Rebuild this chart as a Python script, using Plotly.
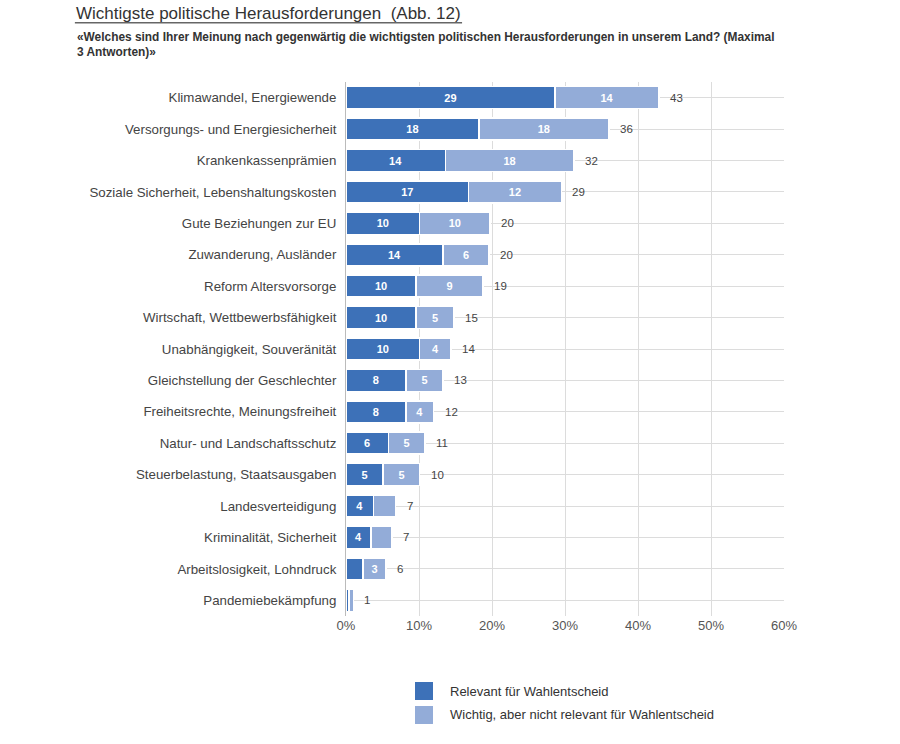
import plotly.graph_objects as go

categories = [
    "Klimawandel, Energiewende",
    "Versorgungs- und Energiesicherheit",
    "Krankenkassenprämien",
    "Soziale Sicherheit, Lebenshaltungskosten",
    "Gute Beziehungen zur EU",
    "Zuwanderung, Ausländer",
    "Reform Altersvorsorge",
    "Wirtschaft, Wettbewerbsfähigkeit",
    "Unabhängigkeit, Souveränität",
    "Gleichstellung der Geschlechter",
    "Freiheitsrechte, Meinungsfreiheit",
    "Natur- und Landschaftsschutz",
    "Steuerbelastung, Staatsausgaben",
    "Landesverteidigung",
    "Kriminalität, Sicherheit",
    "Arbeitslosigkeit, Lohndruck",
    "Pandemiebekämpfung",
]
relevant = [28.6, 18.2, 13.6, 16.8, 10.1, 13.3, 9.6, 9.6, 10.1, 8.2, 8.2, 5.8, 5.1, 3.8, 3.4, 2.3, 0.4]
wichtig = [14.3, 17.8, 17.6, 12.7, 9.6, 6.3, 9.2, 5.2, 4.3, 5.1, 3.8, 5.0, 5.0, 3.0, 2.9, 3.2, 0.6]
relevant_labels = ["29", "18", "14", "17", "10", "14", "10", "10", "10", "8", "8", "6", "5", "4", "4", "", ""]
wichtig_labels = ["14", "18", "18", "12", "10", "6", "9", "5", "4", "5", "4", "5", "5", "", "", "3", ""]
total_labels = ["43", "36", "32", "29", "20", "20", "19", "15", "14", "13", "12", "11", "10", "7", "7", "6", "1"]
x_ticks = [0, 10, 20, 30, 40, 50, 60]
series_names = ["Relevant für Wahlentscheid", "Wichtig, aber nicht relevant für Wahlentscheid"]

FONT = "Liberation Sans, Arial, sans-serif"
DARK = "#3d71b8"
LIGHT = "#93acd8"

fig = go.Figure()
fig.add_trace(go.Bar(
    y=categories, x=relevant, orientation="h", name=series_names[0],
    marker=dict(color=DARK, line=dict(color="white", width=1.5)),
    text=relevant_labels, texttemplate="<b>%{text}</b>", textposition="inside",
    insidetextanchor="middle", textfont=dict(color="white", size=11, family=FONT), width=0.7,
))
fig.add_trace(go.Bar(
    y=categories, x=wichtig, orientation="h", name=series_names[1],
    marker=dict(color=LIGHT, line=dict(color="white", width=1.5)),
    text=wichtig_labels, texttemplate="<b>%{text}</b>", textposition="inside",
    insidetextanchor="middle", textfont=dict(color="white", size=11, family=FONT), width=0.7,
))

for cat, r, w, t in zip(categories, relevant, wichtig, total_labels):
    fig.add_annotation(x=r + w, y=cat, text=t, showarrow=False, xanchor="left",
                       xshift=9, font=dict(size=11.5, color="#444", family=FONT))

# title, underline, subtitle
fig.add_annotation(xref="paper", yref="paper", x=-0.619, y=1.1275, xanchor="left", yanchor="middle",
                   text="Wichtigste politische Herausforderungen  (Abb. 12)", showarrow=False,
                   borderpad=0, font=dict(size=17, color="#333", family=FONT))
fig.add_shape(type="line", xref="paper", yref="paper", x0=-0.619, x1=0.265, y0=1.111, y1=1.111,
              line=dict(color="#666", width=1.5))
fig.add_annotation(xref="paper", yref="paper", x=-0.619, y=1.102, xanchor="left", yanchor="top",
                   align="left",
                   text="<b>«Welches sind Ihrer Meinung nach gegenwärtig die wichtigsten politischen Herausforderungen in unserem Land? (Maximal<br>3 Antworten)»</b>",
                   showarrow=False, font=dict(size=11.9, color="#333", family=FONT))

# manual legend
legend_colors = [DARK, LIGHT]
legend_y = [(-0.1236, -0.1573), (-0.1685, -0.2022)]
for name, col, (y0, y1) in zip(series_names, legend_colors, legend_y):
    fig.add_shape(type="rect", xref="paper", yref="paper", x0=0.1575, x1=0.1986, y0=y1, y1=y0,
                  fillcolor=col, line=dict(width=0))
    fig.add_annotation(xref="paper", yref="paper", x=0.2329, y=(y0 + y1) / 2, xanchor="left",
                       yanchor="middle", text=name, showarrow=False,
                       font=dict(size=13, color="#333", family=FONT))

fig.update_layout(
    width=900, height=744, barmode="stack", bargap=0.3,
    plot_bgcolor="white", paper_bgcolor="white",
    margin=dict(l=346, r=116, t=82, b=128),
    font=dict(family=FONT, color="#444"),
    showlegend=False,
    xaxis=dict(range=[0, 60], tickvals=x_ticks, ticktext=[f"{v}%" for v in x_ticks],
               showgrid=True, gridcolor="#dcdcdc", gridwidth=1, zeroline=False,
               tickfont=dict(size=13, color="#555"), ticks="", fixedrange=True),
    yaxis=dict(autorange="reversed", showgrid=True, gridcolor="#dcdcdc",
               tickfont=dict(size=13.3, color="#444"), ticks="", ticklabelstandoff=6,
               showline=True, linecolor="#bbb", linewidth=1),
)

fig.write_html("out.html")
